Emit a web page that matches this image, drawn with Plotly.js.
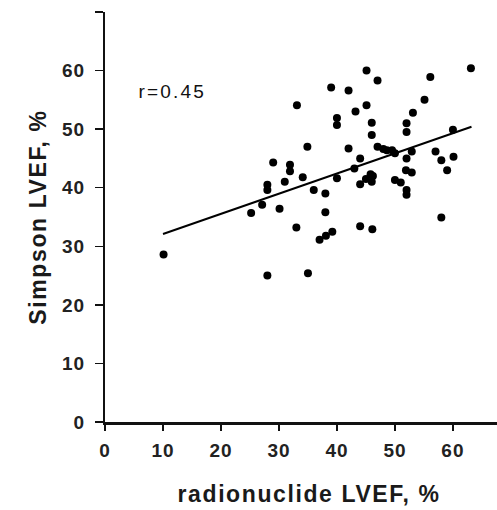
<!DOCTYPE html>
<html>
<head>
<meta charset="utf-8">
<script src="https://cdn.plot.ly/plotly-3.0.1.min.js"></script>
<style>
html,body{margin:0;padding:0;background:#fff;}
#chart{width:497px;height:510px;}
#chart .xtick text, #chart .ytick text{letter-spacing:1px;}
#chart .xtitle, #chart .ytitle{letter-spacing:1.6px;}
#chart .annotation-text{letter-spacing:2.2px;}
</style>
</head>
<body>
<div id="chart"></div>
<script>
// Radionuclide LVEF (%) vs Simpson LVEF (%)
var radionuclideLVEF = [10.1,28.0,35.0,25.2,27.1,28.0,28.0,29.0,30.1,31.0,31.9,31.9,33.1,33.0,34.1,34.9,36.0,38.0,38.0,37.0,38.1,39.2,39.0,40.0,40.0,40.0,42.0,42.0,43.2,43.0,44.0,44.0,44.0,45.1,45.1,45.0,45.8,46.0,46.2,46.0,46.0,46.1,47.0,47.0,48.0,48.6,49.5,50.0,52.0,52.0,53.1,52.9,52.0,51.9,52.9,50.0,51.0,52.0,52.0,55.1,56.1,57.0,58.0,58.0,59.0,60.0,60.1,63.1];
var simpsonLVEF     = [28.6,25.0,25.4,35.7,37.1,40.5,39.6,44.3,36.4,41.0,43.9,42.8,54.1,33.2,41.8,47.0,39.6,39.0,35.8,31.1,31.8,32.5,57.1,51.9,50.7,41.6,56.6,46.7,53.0,43.3,45.0,40.6,33.4,60.0,54.1,41.5,42.3,41.0,42.0,51.1,49.0,32.9,58.3,47.0,46.6,46.4,46.4,45.9,51.0,49.5,52.8,46.2,45.0,43.0,42.6,41.3,40.9,39.6,38.8,55.0,58.9,46.2,44.7,34.9,43.0,49.9,45.3,60.4];
// Regression line endpoints as drawn in the figure
var fitX = [10, 63.2];
var fitY = [32.1, 50.4];
var xTicks = [0,10,20,30,40,50,60];
var yTicks = [0,10,20,30,40,50,60];
var annotationText = "r=0.45";

var traces = [
  {x: radionuclideLVEF, y: simpsonLVEF, mode: 'markers', type: 'scatter',
   marker: {color: '#000', size: 8}, hoverinfo: 'x+y'},
  {x: fitX, y: fitY, mode: 'lines', type: 'scatter',
   line: {color: '#000', width: 2}}
];
var FONT = 'Liberation Sans, Arial, Helvetica, sans-serif';
var layout = {
  width: 497, height: 510,
  margin: {l: 105, r: 0, t: 12, b: 88},
  showlegend: false,
  paper_bgcolor: '#fff', plot_bgcolor: '#fff',
  font: {family: FONT, color: '#111'},
  xaxis: {range: [0, 67.6], tickvals: xTicks, ticktext: xTicks.map(String),
    ticks: 'outside', ticklen: 6, tickwidth: 1.5, tickcolor: '#111',
    showline: true, linecolor: '#111', linewidth: 2.5, showgrid: false, zeroline: false,
    ticklabelstandoff: 4,
    tickfont: {family: FONT, size: 19, weight: 'bold', color: '#222'},
    title: {text: '<b>&nbsp;&nbsp;radionuclide LVEF, %</b>', font: {family: FONT, size: 23, color: '#1a1a1a'}, standoff: 26}},
  yaxis: {range: [0, 70], tickvals: yTicks.concat([70]), ticktext: yTicks.map(String).concat(['']),
    ticks: 'outside', ticklen: 8, tickwidth: 1.5, tickcolor: '#111',
    showline: true, linecolor: '#111', linewidth: 2, showgrid: false, zeroline: false,
    ticklabelstandoff: 6,
    tickfont: {family: FONT, size: 19, weight: 'bold', color: '#222'},
    title: {text: '<b>Simpson LVEF, %</b>', font: {family: FONT, size: 23, color: '#1a1a1a'}, standoff: 11}},
  annotations: [{x: 6.6, y: 56.4, xref: 'x', yref: 'y', text: annotationText, showarrow: false,
    xanchor: 'left', yanchor: 'middle', font: {family: FONT, size: 19, color: '#111'}}]
};
Plotly.newPlot('chart', traces, layout, {staticPlot: true, displayModeBar: false});
</script>
</body>
</html>
